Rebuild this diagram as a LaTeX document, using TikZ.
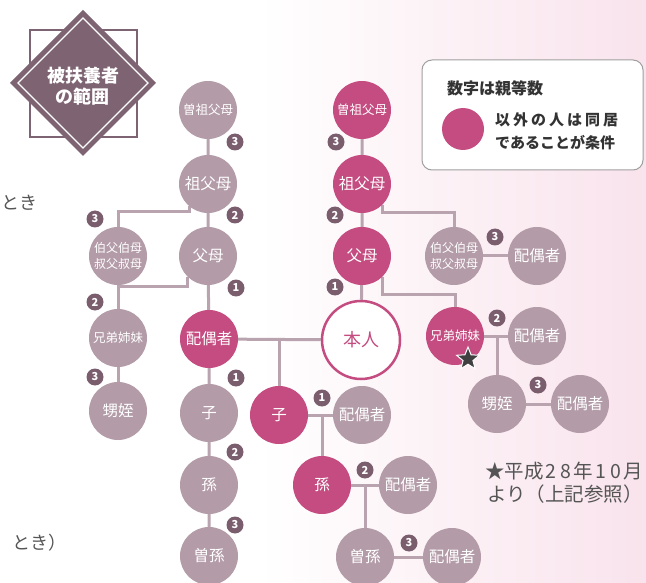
\documentclass[tikz,border=0pt]{standalone}
\usepackage{fontspec}
\newfontfamily\jp{Noto Sans CJK JP}
\usetikzlibrary{shapes.geometric,calc}
\pgfdeclarelayer{back}
\pgfdeclarelayer{lines}
\pgfsetlayers{back,lines,main}
\definecolor{grayn}{HTML}{B39BA8}
\definecolor{pinkn}{HTML}{C44C80}
\definecolor{badgec}{HTML}{7B5E6E}
\definecolor{linec}{HTML}{B8A3AF}
\definecolor{bgpink}{HTML}{F9E3EC}
\definecolor{txtgray}{HTML}{555555}
\definecolor{diamc}{HTML}{7E6372}
\newcommand{\dg}[1]{\makebox[15pt]{#1}}
\tikzset{
  person/.style={circle, minimum size=58pt, inner sep=0pt, text=white, align=center,
    font=\jp\fontsize{15.5}{17}\selectfont},
  gp/.style={person, fill=grayn},
  pp/.style={person, fill=pinkn},
  small/.style={font=\jp\fontsize{12.5}{14}\selectfont},
  tiny/.style={font=\jp\fontsize{12}{16}\selectfont},
  self/.style={circle, minimum size=78pt, inner sep=0pt, fill=white, draw=pinkn,
    line width=2.5pt, text=pinkn, font=\jp\fontsize{18}{20}\selectfont},
  badge/.style={circle, fill=badgec, text=white, minimum size=17pt, inner sep=0pt,
    font=\jp\bfseries\fontsize{11}{11}\selectfont},
  conn/.style={draw=linec, line width=3pt},
  side/.style={text=txtgray, font=\jp\fontsize{18}{22}\selectfont, inner sep=0pt},
}
\begin{document}
\begin{tikzpicture}[x=1pt,y=-1pt]
\useasboundingbox (0,0) rectangle (646,583);
\begin{pgfonlayer}{back}
  \fill[white] (0,0) rectangle (646,583);
  \shade[left color=white, right color=bgpink] (260,0) rectangle (646,583);
\end{pgfonlayer}

% badge diamond
\draw[diamc, line width=1.5pt] (30,30) rectangle (137,137);
\fill[diamc] (83,10) -- (156,83) -- (83,156) -- (10,83) -- cycle;
\draw[white, line width=1.2pt] (83,18) -- (148,83) -- (83,148) -- (18,83) -- cycle;
\node[text=white, font=\jp\bfseries\fontsize{18}{21}\selectfont, align=center] (badgeTitle) at (83,86) {被扶養者\\の範囲};

% legend
\draw[rounded corners=10pt, draw=gray!75, fill=white, line width=1pt] (422,60) rectangle (643,170);
\node[anchor=west, text=black!80, font=\jp\bfseries\fontsize{16}{18}\selectfont, inner sep=0pt] (legT) at (447,88) {数字は親等数};
\node[circle, fill=pinkn, minimum size=42pt, inner sep=0pt] (legC) at (463,129) {};
\node[anchor=west, text=black!80, font=\jp\bfseries\fontsize{15}{23}\selectfont, inner sep=0pt, align=left] (legL) at (495,131)
  {\makebox[123pt][s]{以\hfill 外\hfill の\hfill 人\hfill は\hfill 同\hfill 居}\\であることが条件};

% left column
\node[gp,small] (ggpL) at (208,110) {曽祖父母};
\node[gp] (gpL) at (208,184) {祖父母};
\node[gp] (pL) at (208,256) {父母};
\node[pp] (spL) at (209,339) {配偶者};
\node[gp] (cL) at (209,413) {子};
\node[gp] (gcL) at (209,485) {孫};
\node[gp] (ggcL) at (209,556) {曽孫};
\node[gp,tiny] (unL) at (118,256) {伯父伯母\\叔父叔母};
\node[gp,small] (sibL) at (118,338) {兄弟姉妹};
\node[gp] (nepL) at (118,411) {甥姪};

% right column
\node[pp,small] (ggpR) at (362,110) {曽祖父母};
\node[pp] (gpR) at (362,184) {祖父母};
\node[pp] (pR) at (362,256) {父母};
\node[self] (me) at (361,340) {本人};
\node[gp,tiny] (unR) at (454,256) {伯父伯母\\叔父叔母};
\node[gp] (unRs) at (537,256) {配偶者};
\node[pp,small] (sibR) at (455,336) {兄弟姉妹};
\node[gp] (sibRs) at (537,336) {配偶者};
\node[gp] (nepR) at (497,404) {甥姪};
\node[gp] (nepRs) at (580,404) {配偶者};
\node[star, star points=5, star point ratio=2.3, fill=black!75, draw=white, line width=1pt,
  minimum size=24pt, inner sep=0pt] (starM) at (468,359) {};

% bottom
\node[pp] (c) at (279,415) {子};
\node[gp] (cs) at (362,415) {配偶者};
\node[pp] (gc) at (322,485) {孫};
\node[gp] (gcs) at (408,485) {配偶者};
\node[gp] (ggc) at (365,557) {曽孫};
\node[gp] (ggcs) at (452,557) {配偶者};

\coordinate (j1) at (c |- me);
\coordinate (j2) at (nepR |- sibR);
\coordinate (j3) at (gc |- c);
\coordinate (j4) at (ggc |- gc);

\begin{pgfonlayer}{lines}
  \draw[conn] (ggpL) -- (gpL) -- (pL) -- (spL) -- (cL) -- (gcL) -- (ggcL);
  \draw[conn] (gpL.230) -- ++(0,5) -| (unL);
  \draw[conn] (pL.225) -- ++(0,10) -| (sibL);
  \draw[conn] (sibL) -- (nepL);
  \draw[conn] (ggpR) -- (gpR) -- (pR) -- (me);
  \draw[conn] (gpR.315) -- ++(0,8) -| (unR);
  \draw[conn] (pR.315) -- ++(0,18) -| (sibR);
  \draw[conn] (unR) -- (unRs);
  \draw[conn] (sibR) -- (sibRs);
  \draw[conn] (j2) -- (nepR);
  \draw[conn] (nepR) -- (nepRs);
  \draw[conn] (spL) -- (me);
  \draw[conn] (j1) -- (c);
  \draw[conn] (c) -- (cs);
  \draw[conn] (j3) -- (gc);
  \draw[conn] (gc) -- (gcs);
  \draw[conn] (j4) -- (ggc);
  \draw[conn] (ggc) -- (ggcs);
\end{pgfonlayer}

% degree badges
\node[badge] (b1) at (235,142) {3};
\node[badge] (b2) at (235,215) {2};
\node[badge] (b3) at (236,288) {1};
\node[badge] (b4) at (236,378) {1};
\node[badge] (b5) at (235,452) {2};
\node[badge] (b6) at (235,525) {3};
\node[badge] (b7) at (95,219) {3};
\node[badge] (b8) at (95,302) {2};
\node[badge] (b9) at (95,377) {3};
\node[badge] (b10) at (336,142) {3};
\node[badge] (b11) at (335,215) {2};
\node[badge] (b12) at (335,287) {1};
\node[badge] (b13) at (495,237) {3};
\node[badge] (b14) at (497,318) {2};
\node[badge] (b15) at (538,385) {3};
\node[badge] (b16) at (322,398) {1};
\node[badge] (b17) at (365,470) {2};
\node[badge] (b18) at (409,543) {3};

% side texts
\node[side, anchor=west] (frag1) at (1,203) {とき};
\node[side, anchor=west] (frag2) at (12,543) {とき）};
\node[side, anchor=north east, align=right, font=\jp\fontsize{19.5}{23}\selectfont] (note) at (643,462)
  {★平成\dg{2}\dg{8}年\dg{1}\dg{0}月\\より（上記参照）};
\end{tikzpicture}
\end{document}
